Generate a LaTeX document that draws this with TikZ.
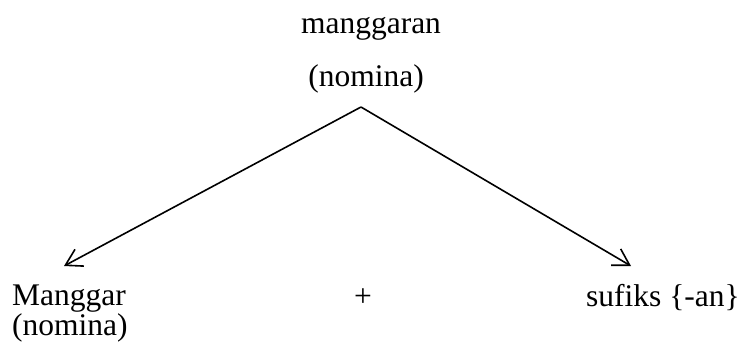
\documentclass[tikz,border=0pt]{standalone}
\usepackage{fontspec}
\setmainfont{Liberation Serif}
\usetikzlibrary{arrows.meta}
\begin{document}
\begin{tikzpicture}[x=1pt,y=-1pt,
  lbl/.style={inner sep=0pt,font=\fontsize{31.5}{30}\selectfont},
  conn/.style={line width=1.6pt,-{Straight Barb[length=16pt,width=19pt,line width=1.6pt]}}]
\useasboundingbox (0,0) rectangle (744,349);
\node[lbl,anchor=base] (top) at (371,33) {manggaran};
\node[lbl,anchor=base] (topcat) at (366,86) {(nomina)};
\node[lbl,anchor=base west] (left) at (12,305) {Manggar};
\node[lbl,anchor=base west] (leftcat) at (12,335) {(nomina)};
\node[lbl,anchor=base] (plus) at (363,306) {+};
\node[lbl,anchor=base east] (right) at (740,306) {sufiks \{-an\}};
\coordinate (apex) at (361,107);
\coordinate (lend) at (64,266);
\coordinate (rend) at (631,266);
\draw[conn] (apex) -- (lend);
\draw[conn] (apex) -- (rend);
\end{tikzpicture}
\end{document}
